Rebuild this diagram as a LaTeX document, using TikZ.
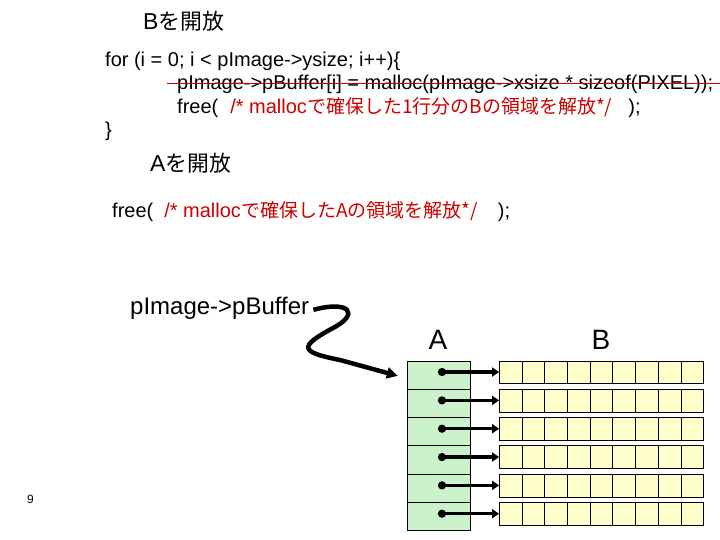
\documentclass[tikz,border=0pt]{standalone}
\usepackage{fontspec}
\setmainfont{Liberation Sans}
\newfontfamily\jp[Scale=0.95]{Noto Sans CJK JP}
\usepackage{xcolor}
\usetikzlibrary{arrows.meta,positioning,calc}

\definecolor{cred}{RGB}{204,0,0}
\definecolor{agreen}{RGB}{204,242,204}
\definecolor{byellow}{RGB}{255,255,204}

\begin{document}
\begin{tikzpicture}[x=1pt,y=-1pt,>=Latex,
  txt/.style={anchor=base west,inner sep=0pt,font=\fontsize{20}{22}\selectfont},
  head/.style={anchor=base west,inner sep=0pt,font=\fontsize{23}{26}\selectfont},
  big/.style={anchor=base,inner sep=0pt,font=\fontsize{28}{30}\selectfont},
  acell/.style={draw,fill=agreen,minimum width=63pt,minimum height=28.33pt,inner sep=0pt},
  brow/.style={draw,fill=byellow,minimum width=204pt,minimum height=22.7pt,inner sep=0pt},
  ptr/.style={line width=3.2pt,{Circle[length=8pt]}-{Triangle[length=7pt,width=9pt]},shorten <=-4pt}]
  \useasboundingbox (0,0) rectangle (720,540);
  % code for freeing B
  \node[head] (hb) at (143,30) {B\jp{を開放}};
  \node[txt] (l1) at (105,67) {for (i = 0; i < pImage->ysize; i++)\{};
  \node[txt] (l2) at (177,90) {pImage->pBuffer[i] = malloc(pImage->xsize * sizeof(PIXEL));};
  \draw[cred,line width=1.3pt] ([xshift=-10pt,yshift=4pt]l2.mid west) -- ([xshift=10pt,yshift=4pt]l2.mid east);
  \node[txt] (l3) at (177,114) {free(\hspace{12pt}\textcolor{cred}{/* malloc\jp{で確保した}1\jp{行分の}B\jp{の領域を解放}*/}\hspace{16pt});};
  \node[txt] (l4) at (105,137) {\}};
  % code for freeing A
  \node[head] (ha) at (150,172) {A\jp{を開放}};
  \node[txt] (l5) at (112,218) {free(\hspace{11pt}\textcolor{cred}{/* malloc\jp{で確保した}A\jp{の領域を解放}*/}\hspace{20pt});};
  % memory picture
  \node[anchor=base west,inner sep=0pt,font=\fontsize{24}{26}\selectfont] (pbuf) at (130,314) {pImage->pBuffer};
  \node[big] (la) at (438,349) {A};
  \node[big] (lb) at (601,349) {B};
  \foreach \i in {0,...,5}{
    \node[acell] (a\i) at (438.5,{374.87+28.33*\i}) {};
    \node[brow] (b\i) at (601.3,{372.05+28.33*\i}) {};
    \foreach \j in {1,...,8}
      \draw ($(b\i.north west)!\j/9!(b\i.north east)$) -- ($(b\i.south west)!\j/9!(b\i.south east)$);
    \draw[ptr] ([xshift=3.5pt]a\i.center |- b\i.west) -- (b\i.west);
  }
  \draw[line width=4.5pt,-{Triangle[length=11pt,width=11pt]}]
    ([xshift=4pt,yshift=-2pt]pbuf.east) .. controls (350,300) and (360,314) .. (333,328)
    .. controls (298,347) and (300,352) .. (340,360)
    -- ([xshift=-9pt,yshift=-1pt]a0.west);
  \node[anchor=base west,inner sep=0pt,font=\fontsize{12}{14}\selectfont] (pg) at (27,503) {9};
\end{tikzpicture}
\end{document}
